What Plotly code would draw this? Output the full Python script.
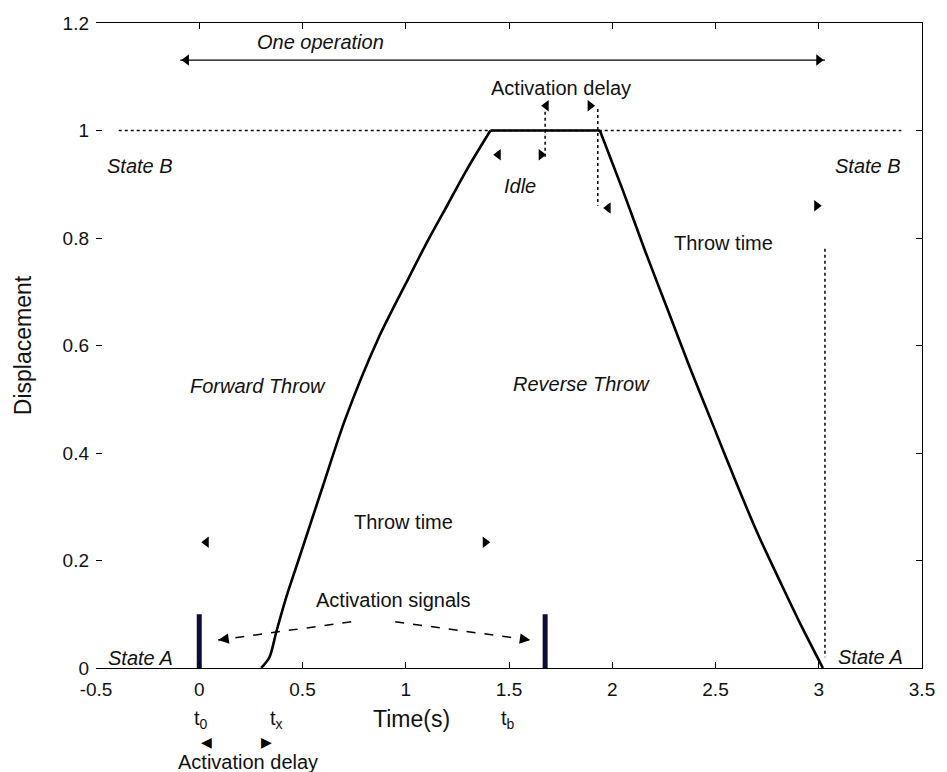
import plotly.graph_objects as go

# Displacement profile of one switch operation
fwd_time = [0.30, 0.34, 0.373, 0.42, 0.48, 0.60, 0.707, 0.867, 1.00, 1.10, 1.20, 1.30, 1.41]
fwd_disp = [0.0, 0.02, 0.067, 0.13, 0.20, 0.34, 0.463, 0.613, 0.715, 0.79, 0.86, 0.93, 1.0]
idle_time = [1.41, 1.94]
idle_disp = [1.0, 1.0]
rev_time = [1.94, 2.05, 2.16, 2.27, 2.38, 2.49, 2.60, 2.71, 2.82, 2.92, 3.02]
rev_disp = [1.0, 0.89, 0.775, 0.665, 0.555, 0.45, 0.345, 0.245, 0.155, 0.075, 0.0]

# Activation signal pulses
signal_time = [0.0, 1.675]
signal_height = 0.1

# Reference guides
state_b_level = 1.0
state_b_span = [-0.39, 3.40]
guide_verticals = [
    ([1.675, 1.675], [1.035, 0.95]),
    ([1.93, 1.93], [1.04, 0.86]),
    ([3.03, 3.03], [0.78, 0.02]),
]

# Axis ticks
x_ticks = [-0.5, 0, 0.5, 1, 1.5, 2, 2.5, 3, 3.5]
x_tick_labels = ["-0.5", "0", "0.5", "1", "1.5", "2", "2.5", "3", "3.5"]
y_ticks = [0, 0.2, 0.4, 0.6, 0.8, 1.0, 1.2]
y_tick_labels = ["0", "0.2", "0.4", "0.6", "0.8", "1", "1.2"]

# Interval markers (arrow heads) inside the axes: x, y, direction
head_x = [1.68, 1.893, 1.448, 1.656, 1.98, 2.99, 0.034, 1.385]
head_y = [1.046, 1.046, 0.955, 0.955, 0.856, 0.86, 0.234, 0.234]
head_dir = ["left", "right", "left", "right", "left", "right", "left", "right"]

# Activation-delay heads below the time axis (y as fraction of axes height)
low_head_x = [0.034, 0.324]
low_head_y = [-0.13, -0.13]
low_head_glyph = ["\u25C0", "\u25B6"]

# Double arrow spanning one operation
op_span = [-0.092, 3.03]
op_level = 1.131

# Arrows pointing at the activation signals: (tail x, tail y, tip x, tip y)
signal_arrows = [(0.736, 0.086, 0.092, 0.052), (0.949, 0.086, 1.603, 0.052)]

FONT = "Liberation Sans, Arial, sans-serif"
TXT = 20

fig = go.Figure()

# guide lines
fig.add_trace(go.Scatter(x=state_b_span, y=[state_b_level] * 2, mode="lines",
                         line=dict(color="black", width=1.5, dash="dot"), hoverinfo="skip"))
for gx, gy in guide_verticals:
    fig.add_trace(go.Scatter(x=gx, y=gy, mode="lines",
                             line=dict(color="black", width=1.5, dash="dot"), hoverinfo="skip"))

# displacement curve
fig.add_trace(go.Scatter(x=fwd_time, y=fwd_disp, mode="lines",
                         line=dict(color="black", width=2.6, shape="spline", smoothing=0.8),
                         hoverinfo="skip"))
fig.add_trace(go.Scatter(x=idle_time, y=idle_disp, mode="lines",
                         line=dict(color="black", width=2.6), hoverinfo="skip"))
fig.add_trace(go.Scatter(x=rev_time, y=rev_disp, mode="lines",
                         line=dict(color="black", width=2.6, shape="spline", smoothing=0.8),
                         hoverinfo="skip"))

# activation pulses
for st in signal_time:
    fig.add_trace(go.Scatter(x=[st, st], y=[0, signal_height], mode="lines",
                             line=dict(color="#0b0b3c", width=5), hoverinfo="skip"))

# one-operation double arrow
fig.add_trace(go.Scatter(x=op_span, y=[op_level] * 2, mode="lines",
                         line=dict(color="black", width=1.2), hoverinfo="skip"))
fig.add_trace(go.Scatter(x=[op_span[0] + 0.03, op_span[1] - 0.03], y=[op_level] * 2, mode="markers",
                         marker=dict(symbol=["triangle-left", "triangle-right"], size=10, color="black"),
                         hoverinfo="skip"))

# dashed arrows to the activation pulses
for x0, y0, x1, y1 in signal_arrows:
    fig.add_trace(go.Scatter(x=[x0, x1], y=[y0, y1], mode="lines",
                             line=dict(color="black", width=1.5, dash="dash"), hoverinfo="skip"))
    fig.add_annotation(x=x1, y=y1, ax=x1 + (x0 - x1) * 0.08, ay=y1 + (y0 - y1) * 0.08,
                       xref="x", yref="y", axref="x", ayref="y", text="", showarrow=True,
                       arrowhead=2, arrowsize=1.4, arrowwidth=1.5, arrowcolor="black")

# interval arrow heads
fig.add_trace(go.Scatter(x=head_x, y=head_y, mode="markers",
                         marker=dict(symbol=["triangle-" + d for d in head_dir], size=10, color="black"),
                         hoverinfo="skip"))
for gx, gy, g in zip(low_head_x, low_head_y, low_head_glyph):
    fig.add_annotation(x=gx, y=gy, xref="x", yref="paper", showarrow=False, text=g,
                       font=dict(family="DejaVu Sans", size=14, color="black"))

labels = [
    ("One operation", 0.586, 1.165, True),
    ("Activation delay", 1.753, 1.08, False),
    ("Idle", 1.555, 0.897, True),
    ("State B", -0.286, 0.934, True),
    ("State B", 3.24, 0.934, True),
    ("Throw time", 2.537, 0.79, False),
    ("Forward Throw", 0.286, 0.525, True),
    ("Reverse Throw", 1.85, 0.529, True),
    ("Throw time", 0.988, 0.271, False),
    ("Activation signals", 0.94, 0.127, False),
    ("State A", -0.286, 0.019, True),
    ("State A", 3.25, 0.02, True),
]
for txt, lx, ly, ital in labels:
    fig.add_annotation(x=lx, y=ly, xref="x", yref="y", showarrow=False,
                       text=f"<i>{txt}</i>" if ital else txt,
                       font=dict(family=FONT, size=TXT, color="#111"))

# texts under the time axis (y as fraction of axes height)
below_labels = [
    ("t<sub>0</sub>", 0.01, -0.08, TXT),
    ("t<sub>x</sub>", 0.373, -0.08, TXT),
    ("t<sub>b</sub>", 1.496, -0.08, TXT),
    ("Time(s)", 1.03, -0.079, 23),
    ("Activation delay", 0.237, -0.145, TXT),
]
for txt, lx, ly, fs in below_labels:
    fig.add_annotation(x=lx, y=ly, xref="x", yref="paper", showarrow=False, text=txt,
                       yanchor="middle", font=dict(family=FONT, size=fs, color="#111"))

fig.update_layout(
    width=947, height=772,
    margin=dict(l=96, r=21, t=23, b=104),
    paper_bgcolor="white", plot_bgcolor="white",
    showlegend=False,
    font=dict(family=FONT, size=19, color="#111"),
    xaxis=dict(range=[-0.5, 3.5], tickvals=x_ticks, ticktext=x_tick_labels,
               showgrid=False, zeroline=False, showline=True, linecolor="black", linewidth=1.2,
               mirror="ticks", ticks="inside", ticklen=6, tickcolor="black", ticklabelstandoff=4),
    yaxis=dict(range=[0, 1.2], tickvals=y_ticks, ticktext=y_tick_labels,
               showgrid=False, zeroline=False, showline=False,
               ticks="inside", ticklen=6, tickcolor="black", ticklabelstandoff=6,
               title=dict(text="Displacement", font=dict(size=23), standoff=24)),
    yaxis2=dict(range=[0, 1.2], tickvals=y_ticks, overlaying="y", side="right",
                showgrid=False, zeroline=False, showline=True, linecolor="black", linewidth=1.2,
                ticks="inside", ticklen=6, tickcolor="black", showticklabels=False),
)
# right-hand frame axis
fig.add_trace(go.Scatter(x=[None], y=[None], yaxis="y2", hoverinfo="skip"))

fig.write_html("out.html")
